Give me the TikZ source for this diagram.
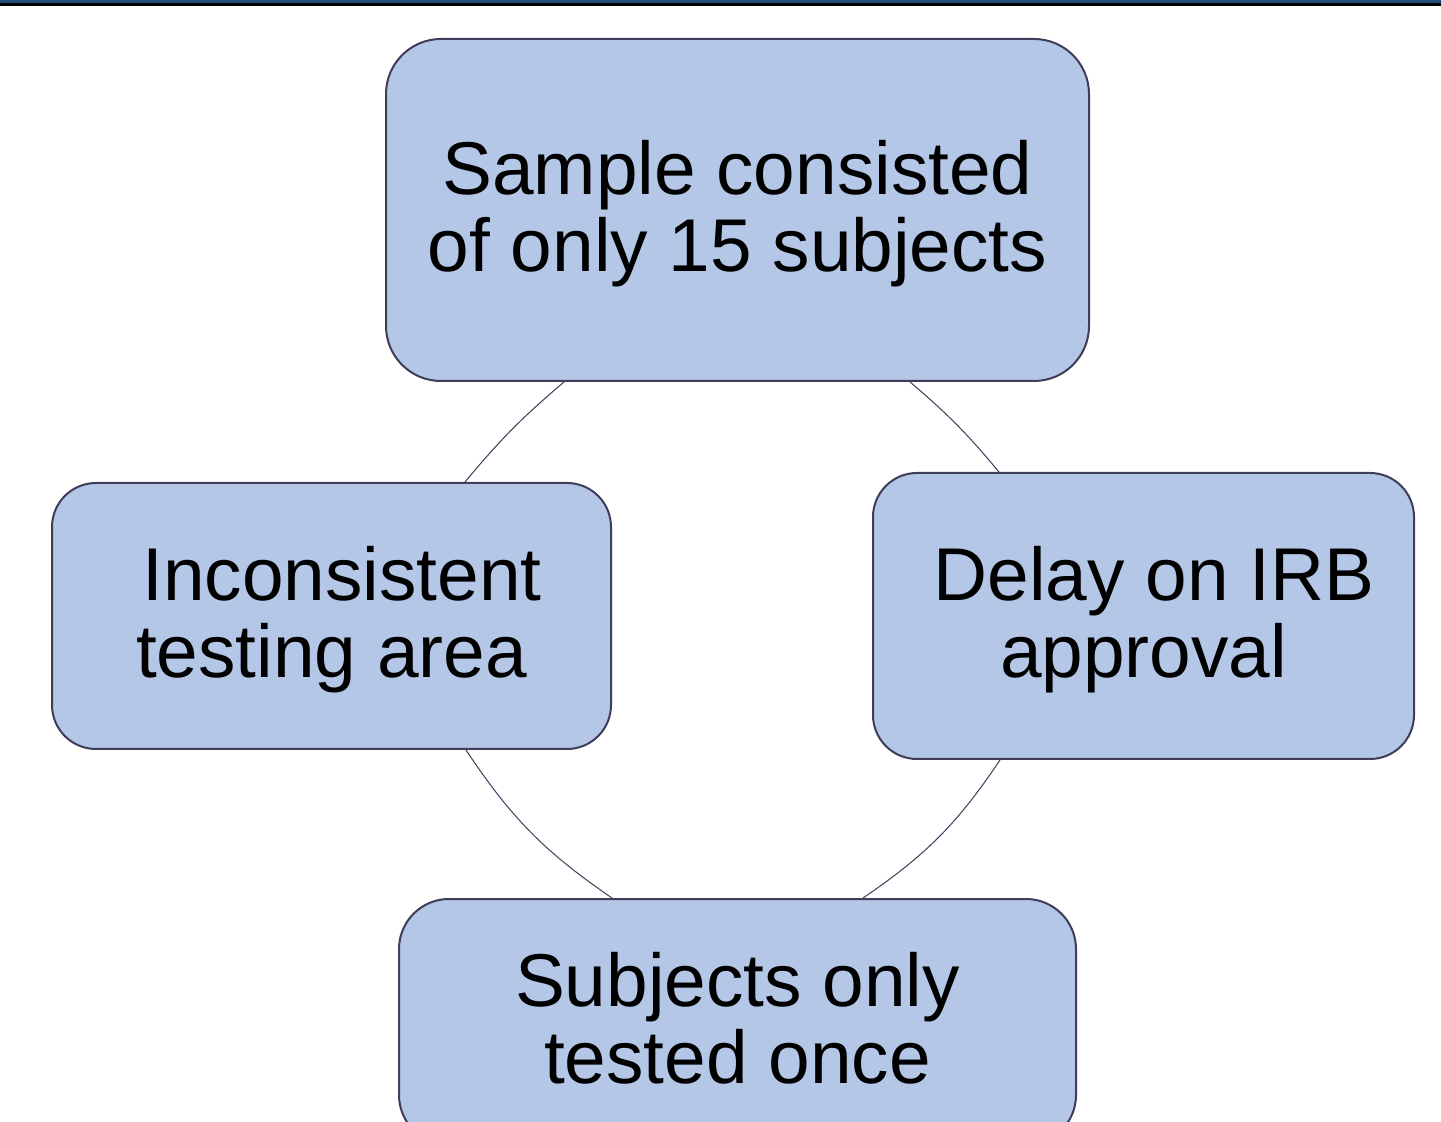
\documentclass[tikz,border=0pt]{standalone}
\usepackage{fontspec}
\setmainfont{Liberation Sans}
\usetikzlibrary{calc}
\definecolor{boxfill}{RGB}{180,199,231}
\definecolor{boxline}{RGB}{64,60,90}
\definecolor{barblue}{RGB}{31,78,121}
\begin{document}
\begin{tikzpicture}[x=0.5pt,y=-0.5pt,
  card/.style={draw=boxline, line width=1pt, fill=boxfill, rounded corners=#1,
    align=center, font=\fontsize{37.4}{38.3}\selectfont, inner sep=0pt,
    text height=61.2pt, text depth=0pt},
  cyclearc/.style={draw=boxline, line width=0.5pt}]
\useasboundingbox (0,0) rectangle (1441,1122);
\clip (0,0) rectangle (1441,1122);
\fill[white] (0,0) rectangle (1441,1122);
\fill[barblue] (0,0) rectangle (1441,3.5);
\fill[black] (0,3.5) rectangle (1441,6);

\node[card=27.5pt, minimum width=351.5pt, minimum height=171pt] (top) at (737.5,210)
  {Sample consisted\\of only 15 subjects};
\node[card=22pt, minimum width=279.5pt, minimum height=133pt] (left) at (331.5,616)
  {\hspace*{0.278em}Inconsistent\\testing area};
\node[card=22pt, minimum width=270.5pt, minimum height=143pt] (right) at (1143.5,616)
  {\hspace*{0.278em}Delay on IRB\\approval};
\node[card=25pt, minimum width=338.5pt, minimum height=123pt] (bottom) at (737.5,1022)
  {Subjects only\\tested once};

\draw[cyclearc] ($(top.south)+(172.5,0)$) to[bend left=5] ($(right.north)+(-144.5,0)$);
\draw[cyclearc] ($(right.south)+(-143.5,0)$) to[bend left=11] ($(bottom.north)+(125.5,0)$);
\draw[cyclearc] ($(bottom.north)+(-125.5,0)$) to[bend left=11] ($(left.south)+(134.5,0)$);
\draw[cyclearc] ($(left.north)+(133.5,0)$) to[bend left=5] ($(top.south)+(-173.5,0)$);
\end{tikzpicture}
\end{document}
